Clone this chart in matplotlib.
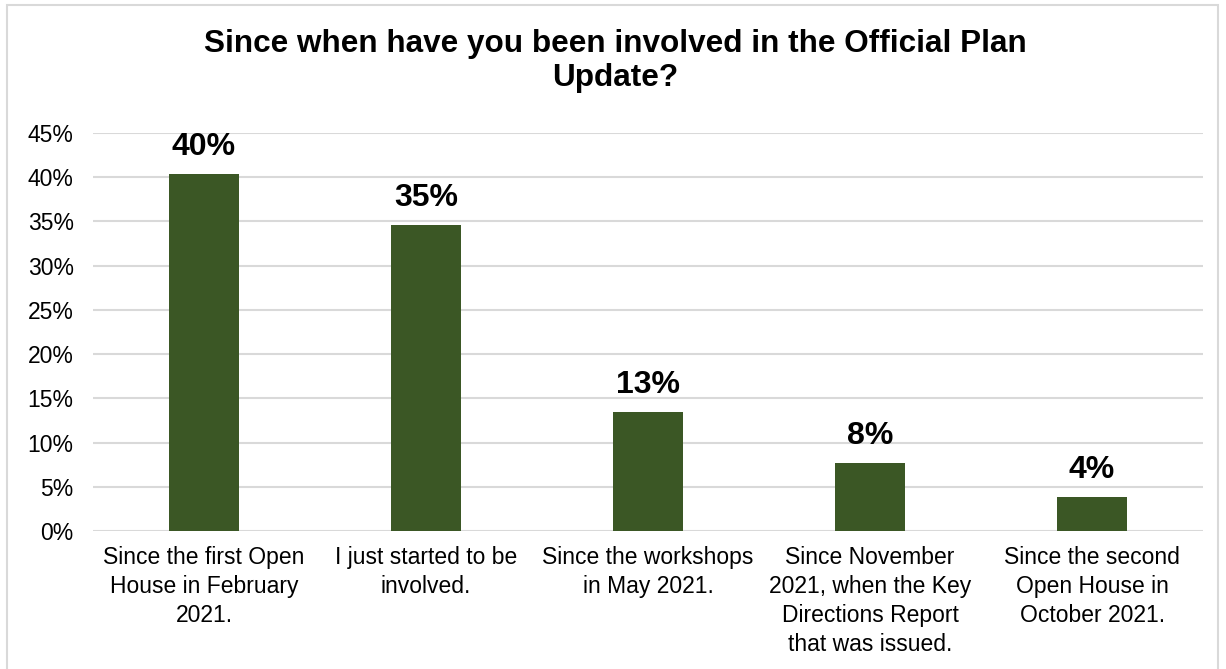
import matplotlib
matplotlib.use('Agg')
import matplotlib.pyplot as plt
from matplotlib.patches import Rectangle

plt.rcParams['font.family'] = ['Liberation Sans', 'DejaVu Sans']

# Survey responses (share of respondents, %)
categories = [
    "Since the first Open\nHouse in February\n2021.",
    "I just started to be\ninvolved.",
    "Since the workshops\nin May 2021.",
    "Since November\n2021, when the Key\nDirections Report\nthat was issued.",
    "Since the second\nOpen House in\nOctober 2021.",
]
shares = [40.38, 34.62, 13.46, 7.69, 3.85]
yticks = [0, 5, 10, 15, 20, 25, 30, 35, 40, 45]

BAR_COLOR = '#3b5725'
GRID_COLOR = '#d9d9d9'

fig = plt.figure(figsize=(12.26, 6.69), dpi=100)
ax = fig.add_axes([0.0759, 0.2063, 0.9054, 0.5949])

x = list(range(len(categories)))
ax.bar(x, shares, width=0.315, color=BAR_COLOR, zorder=3)
for xi, v in zip(x, shares):
    ax.text(xi, v + 1.3, f"{v:.0f}%", ha='center', va='bottom',
            fontsize=23, fontweight='bold', color='black')

ax.set_xlim(-0.5, len(categories) - 0.5)
ax.set_ylim(0, 45)
ax.set_yticks(yticks)
ax.set_yticklabels([f"{t}%" for t in yticks], fontsize=16.5)
ax.set_xticks(x)
ax.set_xticklabels(categories, fontsize=16.5, linespacing=1.33, va='top')
ax.tick_params(axis='both', length=0)
ax.tick_params(axis='x', pad=11)
ax.tick_params(axis='y', pad=14)
ax.grid(axis='y', color=GRID_COLOR, linewidth=1.5, zorder=0)
for s in ax.spines.values():
    s.set_visible(False)

fig.text(0.502, 0.909, "Since when have you been involved in the Official Plan\nUpdate?",
         ha='center', va='center', fontsize=22.7, fontweight='bold',
         linespacing=1.17)

# outer chart frame
fig.patches.append(Rectangle((0.0057, -0.01), 0.988, 1.003, transform=fig.transFigure,
                             fill=False, edgecolor=GRID_COLOR, linewidth=1.5))

fig.savefig('out.png', dpi=100)
